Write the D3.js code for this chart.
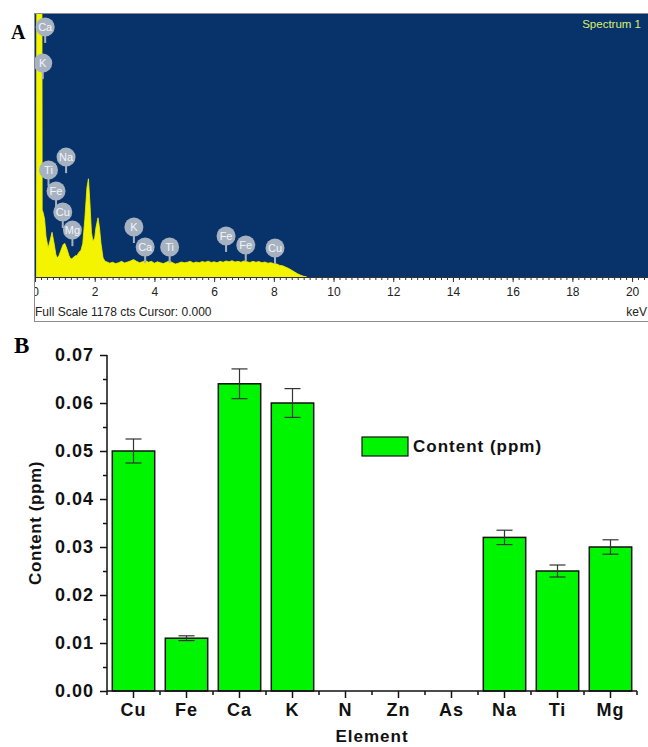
<!DOCTYPE html>
<html>
<head>
<meta charset="utf-8">
<script src="https://cdn.jsdelivr.net/npm/d3@7"></script>
<style>
  html, body { margin: 0; padding: 0; background: #fff; }
  svg { display: block; }
</style>
</head>
<body>
<svg id="chart"></svg>
<script>
// ---- panel A : EDX spectrum ----
const specKeV = [0.05, 0.07, 0.22, 0.24, 0.27, 0.32, 0.37, 0.44, 0.5, 0.57, 0.64, 0.7, 0.75, 0.8, 0.87, 0.94, 1.0, 1.07, 1.14, 1.2, 1.27, 1.34, 1.4, 1.47, 1.54, 1.6, 1.67, 1.74, 1.79, 1.84, 1.89, 1.94, 2.0, 2.04, 2.11, 2.16, 2.21, 2.28, 2.35,
  2.4, 2.5, 2.6, 2.7, 2.8, 2.9, 3.0, 3.1, 3.2, 3.3, 3.4, 3.5, 3.6, 3.7, 3.8, 3.9, 4.0, 4.1, 4.2, 4.3, 4.4, 4.5, 4.6, 4.7, 4.8, 4.9,
  5.0, 5.1, 5.2, 5.3, 5.4, 5.5, 5.6, 5.7, 5.8, 5.9, 6.0, 6.1, 6.2, 6.3, 6.4, 6.5, 6.6, 6.7, 6.8, 6.9, 7.0, 7.1, 7.2, 7.3, 7.4, 7.5,
  7.6, 7.7, 7.8, 7.9, 8.0, 8.1, 8.2, 8.3, 8.4, 8.5, 8.6, 8.7, 8.8, 8.9, 9.0, 9.1];
const specCounts = [0, 3000, 3000, 300, 290, 260, 180, 130, 160, 200, 150, 100, 85, 95, 120, 145, 150, 125, 95, 80, 85, 95, 95, 110, 120, 150, 260, 400, 440, 330, 200, 160, 175, 220, 265, 220, 150, 85, 70,
  68, 62, 66, 60, 64, 70, 63, 67, 72, 78, 70, 64, 68, 74, 66, 70, 62, 68, 64, 60, 66, 72, 65, 58, 62, 67,
  64, 66, 70, 63, 67, 64, 69, 66, 71, 65, 68, 64, 70, 66, 72, 68, 73, 67, 70, 66, 72, 68, 65, 70, 66, 69,
  64, 67, 62, 64, 60, 58, 52, 50, 44, 38, 30, 22, 14, 8, 3, 0];

const peakNames = ["Ca", "K", "Na", "Ti", "Fe", "Cu", "Mg", "K", "Ca", "Ti", "Fe", "Fe", "Cu"];
const peakKeV = [0.341, 0.26, 1.041, 0.452, 0.705, 0.93, 1.253, 3.313, 3.69, 4.51, 6.40, 7.06, 8.04];
const peakCounts = [1120, 958, 537, 479, 385, 291, 210, 224, 134, 134, 184, 143, 130];

const keVTicks = [0, 2, 4, 6, 8, 10, 12, 14, 16, 18, 20];

// ---- panel B : bar chart ----
const elements = ["Cu", "Fe", "Ca", "K", "N", "Zn", "As", "Na", "Ti", "Mg"];
const content = [0.050, 0.011, 0.064, 0.060, 0, 0, 0, 0.032, 0.025, 0.030];
const contentErr = [0.0025, 0.0005, 0.0031, 0.003, 0, 0, 0, 0.0015, 0.00125, 0.0015];
const yTicks = [0, 0.01, 0.02, 0.03, 0.04, 0.05, 0.06, 0.07];

const W = 648, H = 747;
const svg = d3.select('#chart').attr('width', W).attr('height', H);

// ================= Panel A =================
const xA = d3.scaleLinear().domain([0, 20.5]).range([35, 647]);
const yA = d3.scaleLinear().domain([0, 1178]).range([277, 14]);

svg.append('rect')
  .attr('x', 34.5).attr('y', 13.5)
  .attr('width', 630).attr('height', 308)
  .attr('fill', '#fff')
  .attr('stroke', '#8c8c8c');

svg.append('rect')
  .attr('x', 35).attr('y', 14)
  .attr('width', 613).attr('height', 263)
  .attr('fill', '#08336a');

const defs = svg.append('defs');
defs.append('clipPath').attr('id', 'clipA')
  .append('rect').attr('x', 35).attr('y', 14).attr('width', 613).attr('height', 263);
defs.append('clipPath').attr('id', 'clipAxis')
  .append('rect').attr('x', 35).attr('y', 270).attr('width', 613).attr('height', 50);

const spec = specKeV.map((k, i) => ({ k: k, c: specCounts[i] }));
const area = d3.area()
  .x(d => xA(d.k))
  .y0(yA(0))
  .y1(d => yA(d.c));

svg.append('path')
  .datum(spec)
  .attr('clip-path', 'url(#clipA)')
  .attr('d', area)
  .attr('fill', '#f4f400')
  .attr('stroke', '#f4f400')
  .attr('stroke-width', 0.8);

// peak markers
const pins = svg.append('g').attr('clip-path', 'url(#clipA)')
  .selectAll('g')
  .data(peakNames.map((n, i) => ({ n: n, k: peakKeV[i], c: peakCounts[i] })))
  .enter().append('g')
  .attr('transform', d => 'translate(' + xA(d.k) + ',' + yA(d.c) + ')');

pins.append('line')
  .attr('x1', 0).attr('x2', 0)
  .attr('y1', 8).attr('y2', 16)
  .attr('stroke', '#a7b2c1')
  .attr('stroke-width', 2);
pins.append('circle')
  .attr('r', 9.5)
  .attr('fill', '#a7b2c1');
pins.append('text')
  .attr('text-anchor', 'middle')
  .attr('dy', '0.36em')
  .attr('font-family', 'Liberation Sans, Arial, sans-serif')
  .attr('font-size', 11)
  .attr('fill', '#f2f5f8')
  .text(d => d.n);

svg.append('text')
  .attr('x', 641).attr('y', 28)
  .attr('text-anchor', 'end')
  .attr('font-family', 'Liberation Sans, Arial, sans-serif')
  .attr('font-size', 11.5)
  .attr('fill', '#dcef6e')
  .text('Spectrum 1');

// keV axis
const axA = svg.append('g').attr('clip-path', 'url(#clipAxis)');
axA.append('g')
  .attr('transform', 'translate(0,277)')
  .call(d3.axisBottom(xA).tickValues(d3.range(0, 20.6, 0.2)).tickSize(3).tickFormat(''))
  .call(g => g.select('.domain').remove())
  .call(g => g.selectAll('line').attr('stroke', '#333'));
axA.append('g')
  .attr('transform', 'translate(0,277)')
  .call(d3.axisBottom(xA).tickValues(keVTicks).tickSize(5).tickPadding(5).tickFormat(d3.format('d')))
  .call(g => g.select('.domain').attr('stroke', '#333').attr('d', 'M35,0.5H648'))
  .call(g => g.selectAll('line').attr('stroke', '#333'))
  .call(g => g.selectAll('text')
    .attr('font-family', 'Liberation Sans, Arial, sans-serif')
    .attr('font-size', 12)
    .attr('fill', '#222'));

svg.append('text')
  .attr('x', 35).attr('y', 316)
  .attr('font-family', 'Liberation Sans, Arial, sans-serif')
  .attr('font-size', 12)
  .attr('fill', '#222')
  .text('Full Scale 1178 cts Cursor: 0.000');

svg.append('text')
  .attr('x', 647).attr('y', 316)
  .attr('text-anchor', 'end')
  .attr('font-family', 'Liberation Sans, Arial, sans-serif')
  .attr('font-size', 12)
  .attr('fill', '#222')
  .text('keV');

svg.append('text')
  .attr('x', 11).attr('y', 39)
  .attr('font-family', 'Liberation Serif, Times New Roman, serif')
  .attr('font-weight', 'bold')
  .attr('font-size', 20)
  .text('A');

// ================= Panel B =================
const xB = d3.scaleBand().domain(elements).range([107, 637]).paddingInner(0.2).paddingOuter(0.1);
const yB = d3.scaleLinear().domain([0, 0.07]).range([691, 355]);
const boldFont = 'Liberation Sans, Arial, sans-serif';

svg.append('text')
  .attr('x', 14).attr('y', 353)
  .attr('font-family', 'Liberation Serif, Times New Roman, serif')
  .attr('font-weight', 'bold')
  .attr('font-size', 23)
  .text('B');

const rows = elements.map((e, i) => ({ e: e, v: content[i], err: contentErr[i] }));

svg.append('g').selectAll('rect')
  .data(rows.filter(d => d.v > 0))
  .enter().append('rect')
  .attr('x', d => xB(d.e))
  .attr('y', d => yB(d.v))
  .attr('width', xB.bandwidth())
  .attr('height', d => yB(0) - yB(d.v))
  .attr('fill', '#00f500')
  .attr('stroke', '#111')
  .attr('stroke-width', 1.5);

const eb = svg.append('g').attr('stroke', '#333').attr('stroke-width', 1.2)
  .selectAll('g')
  .data(rows.filter(d => d.err > 0))
  .enter().append('g')
  .attr('transform', d => 'translate(' + (xB(d.e) + xB.bandwidth() / 2) + ',0)');
eb.append('line').attr('x1', 0).attr('x2', 0)
  .attr('y1', d => yB(d.v - d.err)).attr('y2', d => yB(d.v + d.err));
eb.append('line').attr('x1', -8).attr('x2', 8)
  .attr('y1', d => yB(d.v + d.err)).attr('y2', d => yB(d.v + d.err));
eb.append('line').attr('x1', -8).attr('x2', 8)
  .attr('y1', d => yB(d.v - d.err)).attr('y2', d => yB(d.v - d.err));

// y axis
svg.append('g')
  .attr('transform', 'translate(107,0)')
  .call(d3.axisLeft(yB).tickValues(d3.range(0.005, 0.07, 0.01)).tickSize(4).tickFormat(''))
  .call(g => g.select('.domain').remove())
  .call(g => g.selectAll('line').attr('stroke', '#111').attr('stroke-width', 1.5));
svg.append('g')
  .attr('transform', 'translate(107,0)')
  .call(d3.axisLeft(yB).tickValues(yTicks).tickSize(7).tickPadding(6).tickFormat(d3.format('.2f')))
  .call(g => g.select('.domain').attr('stroke', '#111').attr('stroke-width', 1.5).attr('d', 'M0,355V691'))
  .call(g => g.selectAll('line').attr('stroke', '#111').attr('stroke-width', 1.5))
  .call(g => g.selectAll('text')
    .attr('font-family', boldFont)
    .attr('font-weight', 'bold')
    .attr('font-size', 18)
    .attr('letter-spacing', 1)
    .attr('fill', '#111'));

// x axis
const bounds = elements.map(e => xB(e) - xB.step() * xB.paddingInner() / 2).concat([637]);
svg.append('g').selectAll('line')
  .data(bounds)
  .enter().append('line')
  .attr('x1', d => d).attr('x2', d => d)
  .attr('y1', 691).attr('y2', 695)
  .attr('stroke', '#111').attr('stroke-width', 1.5);
svg.append('g')
  .attr('transform', 'translate(0,691)')
  .call(d3.axisBottom(xB).tickSize(7).tickPadding(5))
  .call(g => g.select('.domain').attr('stroke', '#111').attr('stroke-width', 1.5).attr('d', 'M107,0H637'))
  .call(g => g.selectAll('line').attr('stroke', '#111').attr('stroke-width', 1.5))
  .call(g => g.selectAll('text')
    .attr('font-family', boldFont)
    .attr('font-weight', 'bold')
    .attr('font-size', 18)
    .attr('letter-spacing', 1)
    .attr('fill', '#111'));

svg.append('text')
  .attr('x', 372).attr('y', 742)
  .attr('text-anchor', 'middle')
  .attr('font-family', boldFont)
  .attr('font-weight', 'bold')
  .attr('font-size', 17)
  .attr('letter-spacing', 1)
  .attr('fill', '#111')
  .text('Element');

svg.append('text')
  .attr('transform', 'translate(41,523) rotate(-90)')
  .attr('text-anchor', 'middle')
  .attr('font-family', boldFont)
  .attr('font-weight', 'bold')
  .attr('font-size', 17)
  .attr('letter-spacing', 0.6)
  .attr('fill', '#111')
  .text('Content (ppm)');

// legend
svg.append('rect')
  .attr('x', 362).attr('y', 437)
  .attr('width', 46).attr('height', 19)
  .attr('fill', '#00f500')
  .attr('stroke', '#111')
  .attr('stroke-width', 1.2);
svg.append('text')
  .attr('x', 413).attr('y', 452)
  .attr('font-family', boldFont)
  .attr('font-weight', 'bold')
  .attr('font-size', 17)
  .attr('letter-spacing', 1)
  .attr('fill', '#111')
  .text('Content (ppm)');
</script>
</body>
</html>
